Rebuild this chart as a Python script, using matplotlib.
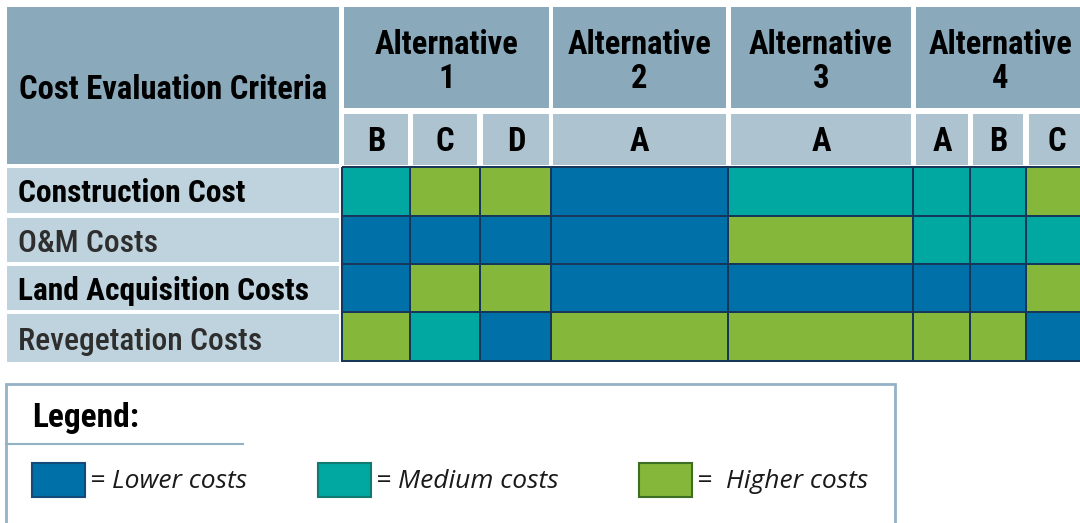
import matplotlib
matplotlib.use("Agg")
import matplotlib.pyplot as plt
from matplotlib import font_manager as fm
from matplotlib.colors import ListedColormap
from matplotlib.patches import Rectangle
import numpy as np

# ---------------- data ----------------
criteria = ["Construction Cost", "O&M Costs", "Land Acquisition Costs", "Revegetation Costs"]
alternatives = ["Alternative\n1", "Alternative\n2", "Alternative\n3", "Alternative\n4"]
sub_options = [["B", "C", "D"], ["A"], ["A"], ["A", "B", "C"]]
# 0 = lower, 1 = medium, 2 = higher costs (columns: 1B 1C 1D 2A 3A 4A 4B 4C)
construction = [1, 2, 2, 0, 1, 1, 1, 2]
om_costs = [0, 0, 0, 0, 2, 1, 1, 1]
land_acq = [0, 2, 2, 0, 0, 0, 0, 2]
reveg = [2, 1, 0, 2, 2, 2, 2, 0]
legend_labels = ["= Lower costs", "= Medium costs", "=  Higher costs"]

# ---------------- layout / style ----------------
W, H = 1080, 523
col_edges = [342, 410, 480, 551, 728, 913, 970, 1026, 1084]
row_edges = [167, 216, 264, 312, 361]
group_span = [(344, 549), (553, 726), (731, 911), (916, 1090)]
sub_span = [(344, 408), (413, 477), (483, 549), (553, 726), (731, 911),
            (916, 968), (973, 1023), (1029, 1090)]
label_rows = [(168, 213), (218, 262), (266, 310), (314, 362)]

c_low, c_med, c_high = "#0070a9", "#00a8a1", "#84b73a"
c_head = "#8aaabb"
c_sub = "#adc4d0"
c_lab = "#bed3dd"
c_grid = "#17375a"
c_legbox = "#93b2c6"

names = {f.name for f in fm.fontManager.ttflist}
cond = None
for cand in ["Roboto Condensed", "DejaVu Sans Condensed", "Liberation Sans Narrow",
             "Open Sans Condensed", "Roboto"]:
    if cand in names:
        cond = cand
        break
if cond is None:
    cond = "DejaVu Sans"
ital = "Open Sans" if "Open Sans" in names else "DejaVu Sans"

fig = plt.figure(figsize=(W / 100, H / 100), dpi=100)
ax = fig.add_axes([0, 0, 1, 1])
ax.set_xlim(0, W)
ax.set_ylim(H, 0)
ax.axis("off")

FS = 23.5

# header: criteria cell
ax.add_patch(Rectangle((7, 7), 332, 157, facecolor=c_head, edgecolor="none"))
ax.text(173, 90, "Cost Evaluation Criteria", ha="center", va="center",
        fontsize=FS, fontweight="bold", family=cond, color="black")

# group headers
for (x0, x1), name in zip(group_span, alternatives):
    ax.add_patch(Rectangle((x0, 7), x1 - x0, 101, facecolor=c_head, edgecolor="none"))
    ax.text((x0 + min(x1, 1085)) / 2, 62, name, ha="center", va="center",
            fontsize=FS, fontweight="bold", family=cond, linespacing=1.12)

# sub headers
subs = [s for grp in sub_options for s in grp]
for (x0, x1), s in zip(sub_span, subs):
    ax.add_patch(Rectangle((x0, 114), x1 - x0, 51, facecolor=c_sub, edgecolor="none"))
    ax.text((x0 + min(x1, 1085)) / 2, 142, s, ha="center", va="center",
            fontsize=FS, fontweight="bold", family=cond)

# row labels
weights = ["bold", "medium", "bold", "medium"]
tcols = ["black", "#2e2e2e", "black", "#2e2e2e"]
for (y0, y1), lab, w, tc in zip(label_rows, criteria, weights, tcols):
    ax.add_patch(Rectangle((7, y0), 332, y1 - y0, facecolor=c_lab, edgecolor="none"))
    ax.text(18, (y0 + y1) / 2 + 3, lab, ha="left", va="center",
            fontsize=22.7, fontweight=w, family=cond, color=tc)

# data cells
values = np.array([construction, om_costs, land_acq, reveg])
cmap = ListedColormap([c_low, c_med, c_high])
ax.pcolormesh(col_edges, row_edges, values, cmap=cmap, vmin=-0.5, vmax=2.5,
              edgecolors=c_grid, linewidth=1.2)

# legend box
ax.plot([6, 6, 895, 895], [530, 384, 384, 530], color=c_legbox, lw=2,
        solid_joinstyle="miter", clip_on=False)
ax.plot([6, 243], [444, 444], color=c_legbox, lw=1.5)
ax.text(32, 418, "Legend:", ha="left", va="center", fontsize=24,
        fontweight="bold", family=cond)
sw_x = [32, 318, 639]
edge_cols = ["#134a7a", "#117a70", "#3d6e22"]
for x, col, ec, lab in zip(sw_x, [c_low, c_med, c_high], edge_cols, legend_labels):
    ax.add_patch(Rectangle((x, 463), 53, 34, facecolor=col, edgecolor=ec, lw=1.5))
    ax.text(x + 58, 482, lab, ha="left", va="center", fontsize=19,
            style="italic", family=ital, color="#1a1a1a")

fig.savefig("out.png", dpi=100, facecolor="white")
